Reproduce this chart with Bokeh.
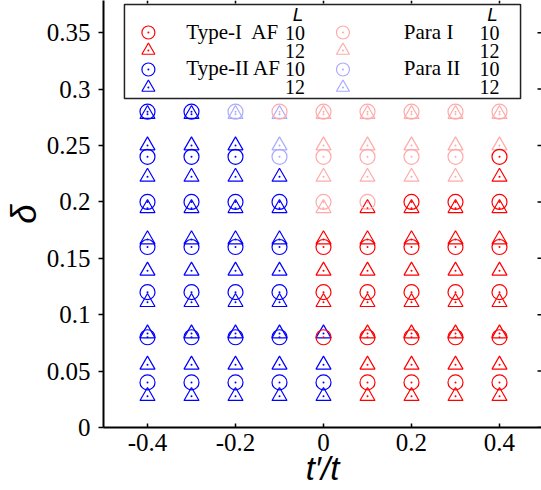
from bokeh.plotting import figure
from bokeh.models import Range1d, FixedTicker, BoxAnnotation, Label, ColumnDataSource
from bokeh.embed import file_html
from bokeh.resources import INLINE

# ---------------- data ----------------
t_ratio = [-0.4, -0.3, -0.2, -0.1, 0.0, 0.1, 0.2, 0.3, 0.4]
delta_L10 = [0.04, 0.08, 0.12, 0.16, 0.20, 0.24, 0.28]
delta_L12 = [0.0278, 0.0556, 0.0833, 0.1111, 0.1389, 0.1667, 0.1944, 0.2222, 0.25, 0.2778]
# A = Type-I AF, B = Type-II AF, P = Para I, Q = Para II (one letter per t'/t column)
phase_L10 = [
    "BBBBBAAAA",  # 0.04
    "BBBBAAAAA",  # 0.08
    "BBBBAAAAA",  # 0.12
    "BBBBAAAAA",  # 0.16
    "BBBBPPAAA",  # 0.20
    "BBBQPPPPA",  # 0.24
    "BBQPPPPPP",  # 0.28
]
phase_L12 = [
    "BBBBBAAAA",  # 0.0278
    "BBBBBAAAA",  # 0.0556
    "BBBBBAAAA",  # 0.0833
    "BBBBAAAAA",  # 0.1111
    "BBBBAAAAA",  # 0.1389
    "BBBBAAAAA",  # 0.1667
    "BBBBPAAAA",  # 0.1944
    "BBBBPPPPA",  # 0.2222
    "BBBQPPPPP",  # 0.25
    "BBQQPPPPP",  # 0.2778
]
phase_names = {"A": "Type-I\u00a0 AF", "B": "Type-II AF", "P": "Para I", "Q": "Para II"}
phase_colors = {"A": "#ff0000", "B": "#0000ff", "P": "#ffaaaa", "Q": "#aaaaff"}
x_ticks = [-0.4, -0.2, 0, 0.2, 0.4]
x_tick_labels = ["-0.4", "-0.2", "0", "0.2", "0.4"]
y_ticks = [0, 0.05, 0.1, 0.15, 0.2, 0.25, 0.3, 0.35]
y_tick_labels = ["0", "0.05", "0.1", "0.15", "0.2", "0.25", "0.3", "0.35"]
L_values = ["10", "12"]
x_title = "t\u2032/t"
y_title = "\u03b4"

# ---------------- layout ----------------
FL, FB, PXU, PYU = 102, 427, 441.0, 1128.0
W, H = 541, 490
X0 = -0.5
X1 = X0 + (W - FL) / PXU
Y0 = 0.0
Y1 = FB / PYU


def px_x(px):
    return X0 + (px - FL) / PXU


def px_y(py):
    return (FB - py) / PYU


p = figure(width=W, height=H, x_range=Range1d(X0, X1), y_range=Range1d(Y0, Y1),
           output_backend="svg", toolbar_location=None,
           min_border_left=FL, min_border_right=0, min_border_top=0,
           min_border_bottom=H - FB, x_axis_label=x_title, y_axis_label=y_title)
p.outline_line_color = None
p.xgrid.visible = False
p.ygrid.visible = False
p.background_fill_color = "white"
p.border_fill_color = "white"

serif = "Liberation Serif"
sans = "Liberation Sans"

xa = p.xaxis[0]
xa.ticker = FixedTicker(ticks=x_ticks, minor_ticks=[])
xa.major_label_overrides = {k: v for k, v in zip(x_ticks, x_tick_labels)}
xa.major_tick_in = 4
xa.major_tick_out = 0
xa.minor_tick_in = 0
xa.minor_tick_out = 0
xa.axis_line_width = 2
xa.axis_line_color = "black"
xa.major_tick_line_width = 1.5
xa.major_label_text_font = serif
xa.major_label_text_font_size = "25px"
xa.major_label_text_color = "black"
xa.major_label_standoff = 6
xa.axis_label_text_font = sans
xa.axis_label_text_font_style = "italic"
xa.axis_label_text_font_size = "33px"
xa.axis_label_text_color = "black"
xa.axis_label_standoff = -4

ya = p.yaxis[0]
ya.ticker = FixedTicker(ticks=y_ticks, minor_ticks=[])
ya.major_label_overrides = {k: v for k, v in zip(y_ticks, y_tick_labels)}
ya.major_tick_in = 0
ya.major_tick_out = 5
ya.minor_tick_in = 0
ya.minor_tick_out = 0
ya.axis_line_width = 2
ya.axis_line_color = "black"
ya.major_tick_line_width = 1.5
ya.major_label_text_font = serif
ya.major_label_text_font_size = "25px"
ya.major_label_text_color = "black"
ya.major_label_standoff = 8
ya.axis_label_text_font = sans
ya.axis_label_text_font_style = "italic"
ya.axis_label_text_font_size = "35px"
ya.axis_label_text_color = "black"
ya.axis_label_standoff = 1

# mirrored inward ticks on the top and right edges of the frame
p.segment(x0=x_ticks, x1=x_ticks, y0=[Y1 - 3 / PYU] * len(x_ticks), y1=[Y1] * len(x_ticks),
          line_color="black", line_width=1.5)
p.segment(x0=[X1 - 4 / PXU] * len(y_ticks), x1=[X1] * len(y_ticks), y0=y_ticks, y1=y_ticks,
          line_color="black", line_width=1.5)


def add_text(px, py_base, text, size, font, style="normal", align="left"):
    off = 0.35 * size
    p.add_layout(Label(x=px_x(px), y=px_y(py_base - off), text=text, text_font=font,
                       text_font_style=style, text_font_size=f"{size}px",
                       text_color="black", text_baseline="alphabetic",
                       text_align=align))


# ---------------- data markers ----------------
def phase_points(deltas, phases):
    xs, ys, cs = [], [], []
    for d, row in zip(deltas, phases):
        for x, ph in zip(t_ratio, row):
            xs.append(x)
            ys.append(d)
            cs.append(phase_colors[ph])
    return ColumnDataSource(dict(x=xs, y=ys, c=cs))


src10 = phase_points(delta_L10, phase_L10)
src12 = phase_points(delta_L12, phase_L12)
MS = 15
for src, mk in ((src12, "triangle"), (src10, "circle")):
    p.scatter("x", "y", source=src, marker=mk, size=MS, fill_color=None,
              line_color="c", line_width=1.2)
    p.scatter("x", "y", source=src, marker="circle", size=2, fill_color="c",
              line_color=None)

# ---------------- legend ----------------
p.add_layout(BoxAnnotation(left=px_x(123), right=px_x(520), top=px_y(4), bottom=px_y(98),
                           fill_color=None, line_color="#222222", line_alpha=1.0,
                           line_width=1.5))

legend_slots = [("A", 147, 32, 185, 39, 294), ("B", 147, 69, 185, 75, 294),
                ("P", 342, 32, 403, 39, 489), ("Q", 342, 69, 403, 75, 489)]
lx, ly, lc, lm = [], [], [], []
for ph, mx, my, tx, tb, nx in legend_slots:
    col = phase_colors[ph]
    lx += [px_x(mx), px_x(mx)]
    ly += [px_y(my), px_y(my + 18)]
    lc += [col, col]
    lm += ["circle", "triangle"]
    add_text(tx, tb, phase_names[ph], 21, serif)
    for k, lv in enumerate(L_values):
        add_text(nx, tb + 18 * k, lv, 20, serif, align="center")
lsrc = ColumnDataSource(dict(x=lx, y=ly, c=lc, m=lm))
p.scatter("x", "y", source=lsrc, marker="m", size=13, fill_color=None, line_color="c",
          line_width=1.2)
p.scatter("x", "y", source=lsrc, marker="circle", size=2, fill_color="c", line_color=None)
for hx in (297, 492):
    add_text(hx, 21, "L", 19, sans, "italic", "center")

open("out.html", "w").write(file_html(p, INLINE))
